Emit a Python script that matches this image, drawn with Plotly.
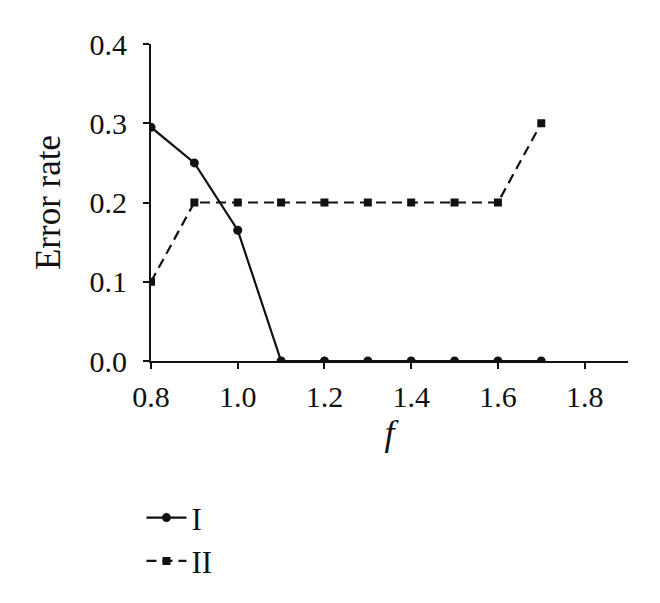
import plotly.graph_objects as go

f_vals = [0.8, 0.9, 1.0, 1.1, 1.2, 1.3, 1.4, 1.5, 1.6, 1.7]
err_I = [0.295, 0.25, 0.165, 0.0, 0.0, 0.0, 0.0, 0.0, 0.0, 0.0]
err_II = [0.1, 0.2, 0.2, 0.2, 0.2, 0.2, 0.2, 0.2, 0.2, 0.3]
x_ticks = [0.8, 1.0, 1.2, 1.4, 1.6, 1.8]
y_ticks = [0.0, 0.1, 0.2, 0.3, 0.4]

font = "Liberation Serif"
fig = go.Figure()
fig.add_trace(go.Scatter(x=f_vals, y=err_I, name="I", mode="lines+markers",
                         line=dict(color="#111", width=2.2),
                         marker=dict(symbol="circle", size=9, color="#111")))
fig.add_trace(go.Scatter(x=f_vals, y=err_II, name="II", mode="lines+markers",
                         line=dict(color="#111", width=2.2, dash="10px,6px"),
                         marker=dict(symbol="square", size=8, color="#111")))

fig.update_layout(
    width=660, height=603,
    margin=dict(l=143, r=40, t=36, b=250),
    paper_bgcolor="white", plot_bgcolor="white",
    font=dict(family=font, color="#111", size=30),
    showlegend=True,
    legend=dict(x=-0.02, y=-0.41, xanchor="left", yanchor="top",
                font=dict(family=font, size=31), tracegroupgap=9,
                itemwidth=40,
                bgcolor="rgba(0,0,0,0)"),
    xaxis=dict(range=[0.8, 1.9], tickvals=x_ticks, ticktext=[f"{v:.1f}" for v in x_ticks],
               showline=True, linecolor="#111", linewidth=2.2, ticks="outside",
               ticklen=6, tickwidth=2, tickcolor="#111", showgrid=False, zeroline=False,
               tickfont=dict(size=30), ticklabelstandoff=2,
               title=dict(text="<i>f</i>", font=dict(family="Liberation Serif", size=36), standoff=8)),
    yaxis=dict(range=[0, 0.4], tickvals=y_ticks, ticktext=[f"{v:.1f}" for v in y_ticks],
               showline=True, linecolor="#111", linewidth=2.2, ticks="outside",
               ticklen=6, tickwidth=2, tickcolor="#111", showgrid=False, zeroline=False,
               tickfont=dict(size=30), ticklabelstandoff=10,
               title=dict(text="Error rate", font=dict(size=35), standoff=18)),
)
fig.write_html("out.html")
